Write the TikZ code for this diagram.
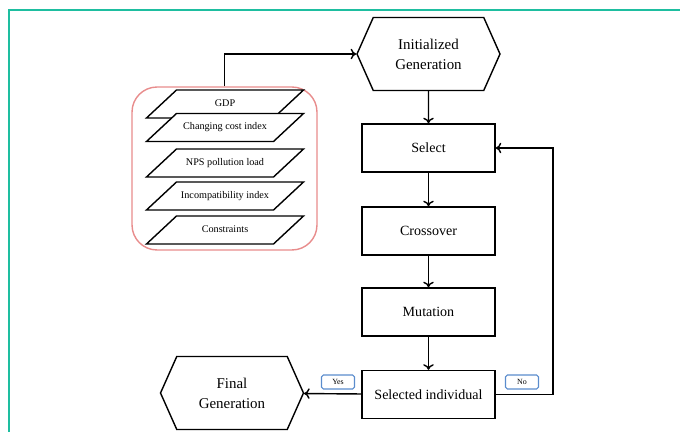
\documentclass[tikz,border=0pt]{standalone}
\usepackage{fontspec}
\setmainfont{Liberation Serif}
\usepackage{tikz}
\usetikzlibrary{shapes.geometric,shapes.symbols,arrows.meta}

\definecolor{frameteal}{RGB}{30,190,160}
\definecolor{grouppink}{RGB}{232,140,140}
\definecolor{tagblue}{RGB}{90,140,205}

\begin{document}
\begin{tikzpicture}[x=0.02cm,y=-0.02cm,>={To[length=3.2pt,width=6pt]},
	every path/.style={line width=0.8pt},
	stepbox/.style={shape=rectangle,draw=black,fill=white,minimum width=2.66cm,minimum height=0.96cm,font=\fontsize{8}{10}\selectfont},
	genhex/.style={shape=signal,signal to=west and east,signal pointer angle=132,draw=black,fill=white,align=center,minimum width=2.86cm,minimum height=1.46cm,inner xsep=0pt,font=\fontsize{8.5}{11.3}\selectfont},
	datapar/.style={shape=trapezium,trapezium left angle=43,trapezium right angle=137,trapezium stretches body,draw=black,fill=white,minimum width=3.14cm,text height=4pt,text depth=1.5pt,inner xsep=0pt,inner ysep=5.2pt,font=\fontsize{5.8}{6.5}\selectfont},
	tag/.style={shape=rectangle,rounded corners=1pt,draw=tagblue,line width=0.6pt,fill=white,minimum width=0.66cm,minimum height=0.28cm,inner sep=0pt,font=\fontsize{4.5}{5}\selectfont}]
	\useasboundingbox (0,0) rectangle (680,432);
	\draw[frameteal,line width=1.2pt] (9,432) -- (9,10) -- (680,10);

	\node[shape=rectangle,draw=grouppink,rounded corners=0.5cm,minimum width=3.7cm,minimum height=3.26cm] (inputs) at (224.5,168.5) {};
	\node[datapar] (gdp) at (225,104) {GDP};
	\node[datapar] (cost) at (225,127.5) {Changing cost index};
	\node[datapar] (nps) at (225,163) {NPS pollution load};
	\node[datapar] (incomp) at (225,196) {Incompatibility index};
	\node[datapar] (cons) at (225,230) {Constraints};

	\node[genhex] (ini) at (428.5,54) {Initialized\\Generation};
	\node[stepbox] (sel) at (428.5,148) {Select};
	\node[stepbox] (cro) at (428.5,231) {Crossover};
	\node[stepbox] (mut) at (428.5,312) {Mutation};
	\node[stepbox] (ind) at (428.5,394.5) {Selected individual};
	\node[genhex] (fin) at (232,393) {Final\\Generation};
	\coordinate (loop) at (553,394.5);

	\node[tag] (yes) at (338,382) {Yes};
	\node[tag] (no) at (522,382) {No};

	\draw[->] (inputs.north) |- (ini.west);
	\draw[->] (ini) -- (sel);
	\draw[->] (sel) -- (cro);
	\draw[->] (cro) -- (mut);
	\draw[->] (mut) -- (ind);
	\draw[->] (ind) -- (fin);
	\draw[->] (ind) -- (loop) |- (sel);
\end{tikzpicture}
\end{document}
